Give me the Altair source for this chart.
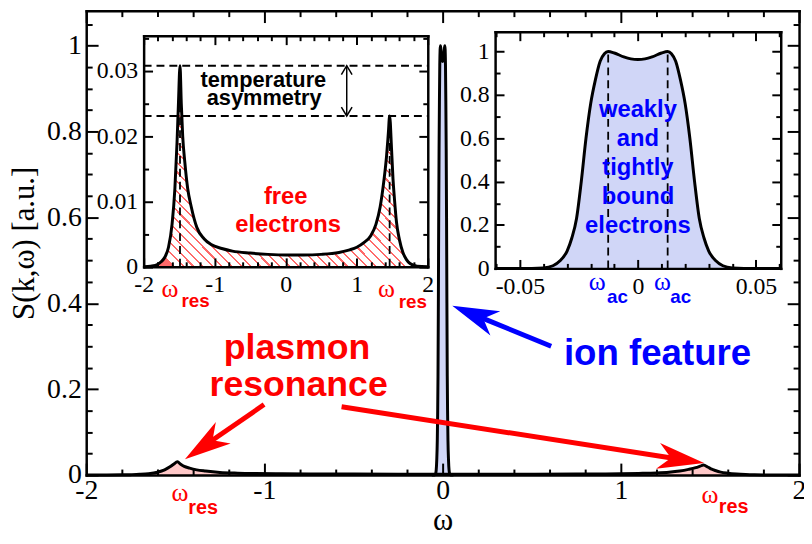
import math
import altair as alt
import pandas as pd

# ---------------- data ----------------
# free-electron (plasmon) part of S(k,w): left inset and main panel
free_w = [-2.0, -1.9, -1.8, -1.75, -1.7, -1.65, -1.6, -1.56, -1.53, -1.51, -1.488, -1.47, -1.45,
          -1.42, -1.38, -1.33, -1.25, -1.15, -1.05, -0.9, -0.75, -0.5, -0.25, 0.0, 0.25, 0.5,
          0.75, 0.9, 1.0, 1.1, 1.2, 1.27, 1.33, 1.38, 1.42, 1.445, 1.463, 1.49, 1.51, 1.53,
          1.56, 1.6, 1.65, 1.7, 1.75, 1.85, 2.0]
free_s = [0.0, 0.0001, 0.0004, 0.0008, 0.0015, 0.003, 0.0065, 0.012, 0.019, 0.025, 0.0308, 0.025,
          0.020, 0.016, 0.012, 0.0092, 0.006, 0.0043, 0.0034, 0.0028, 0.0024, 0.0021, 0.0019,
          0.0018, 0.0018, 0.0019, 0.0022, 0.0026, 0.003, 0.0037, 0.0048, 0.0065, 0.0092, 0.013,
          0.017, 0.0205, 0.0231, 0.018, 0.0135, 0.0105, 0.0068, 0.0042, 0.0022, 0.0011, 0.0005,
          0.0001, 0.0]

# ion feature (weakly and tightly bound electrons): right inset and central peak
ion_w = [-0.0605, -0.045, -0.04, -0.036, -0.033, -0.030, -0.028, -0.026, -0.024, -0.022, -0.020,
         -0.018, -0.016, -0.0142, -0.0126, -0.010, -0.006, -0.003, 0.0, 0.003, 0.006, 0.010,
         0.0126, 0.0142, 0.016, 0.018, 0.020, 0.022, 0.024, 0.026, 0.028, 0.030, 0.033, 0.036,
         0.040, 0.045, 0.0605]
ion_s = [0, 0, 0.002, 0.012, 0.035, 0.08, 0.14, 0.23, 0.40, 0.60, 0.76, 0.87, 0.955, 0.99, 1.0,
         0.993, 0.975, 0.966, 0.963, 0.966, 0.975, 0.993, 1.0, 0.99, 0.955, 0.87, 0.76, 0.60,
         0.40, 0.23, 0.14, 0.08, 0.035, 0.012, 0.002, 0, 0]

# tick values
main_x_ticks = [-2, -1.8, -1.6, -1.4, -1.2, -1, -0.8, -0.6, -0.4, -0.2, 0, 0.2, 0.4, 0.6, 0.8,
                1, 1.2, 1.4, 1.6, 1.8, 2]
main_x_labels = [-2, -1, 0, 1, 2]
main_y_ticks = [0, 0.05, 0.1, 0.15, 0.2, 0.25, 0.3, 0.35, 0.4, 0.45, 0.5, 0.55, 0.6, 0.65, 0.7,
                0.75, 0.8, 0.85, 0.9, 0.95, 1, 1.05]
main_y_labels = [0, 0.2, 0.4, 0.6, 0.8, 1]
in1_x_ticks = main_x_ticks
in1_x_labels = [-2, -1, 0, 1, 2]
in1_y_ticks = [0, 0.005, 0.01, 0.015, 0.02, 0.025, 0.03, 0.035]
in1_y_labels = [0, 0.01, 0.02, 0.03]
in2_x_ticks = [-0.06, -0.05, -0.04, -0.03, -0.02, -0.01, 0, 0.01, 0.02, 0.03, 0.04, 0.05, 0.06]
in2_x_labels = [-0.05, 0, 0.05]
in2_y_ticks = [0, 0.1, 0.2, 0.3, 0.4, 0.5, 0.6, 0.7, 0.8, 0.9, 1]
in2_y_labels = [0, 0.2, 0.4, 0.6, 0.8, 1]

# marked features
res_peak_w = [-1.488, 1.463]
res_peak_s = [0.0308, 0.0231]
ac_w = [-0.0126, 0.0126]
ac_s = [1.0, 1.0]
asym_w = 0.859

# ---------------- layout / style ----------------
W, H = 720, 469
MX = {"domain": [-2, 2], "range": [0, W]}
MY = {"domain": [0, 1.0814], "range": [H, 0]}
I1X = {"domain": [-2, 2], "range": [58, 345]}
I1Y = {"domain": [0, 0.0354], "range": [258.7, 25.3]}
I2X = {"domain": [-0.0605, 0.0605], "range": [413, 701.5]}
I2Y = {"domain": [0, 1.091], "range": [260.3, 21.3]}

SERIF = "Liberation Serif"
SANS = "Liberation Sans"
RED = "#ff0000"
BLUE = "#0000ff"
BLUE_FILL = "#d0d6f7"
PINK_FILL = "#ffc8c8"

LAB = "datum.value < 0 ? '-' + format(-datum.value, '~g') : format(datum.value, '~g')"


def sc(s):
    return alt.Scale(domain=s["domain"], range=s["range"], nice=False, zero=False)


def X(field, s, axis=None):
    return alt.X(field, type="quantitative", scale=sc(s), axis=axis)


def Y(field, s, axis=None):
    return alt.Y(field, type="quantitative", scale=sc(s), axis=axis, stack=None)


def px(v, s):
    d0, d1 = s["domain"]
    r0, r1 = s["range"]
    return r0 + (v - d0) / (d1 - d0) * (r1 - r0)


def unpx(p, s):
    d0, d1 = s["domain"]
    r0, r1 = s["range"]
    return d0 + (p - r0) / (r1 - r0) * (d1 - d0)


def cond(test, big, small):
    return {"condition": {"test": test, "value": big}, "value": small}


def frame_axes(sx, sy, xt, yt, xl_vals, yl_vals, xtest, ytest, fs, xpad, ypad, big, small, dw,
               xtitle=None, ytitle=None):
    xl, xr = sx["range"]
    yb, ytop = sy["range"]
    lab = dict(ticks=False, domain=False, labelFont=SERIF, labelFontSize=fs, labelColor="black",
               labelFlush=False, labelOverlap=False, labelExpr=LAB, grid=False, zindex=1)
    if xtitle:
        xt_kw = dict(title=xtitle, titleFont=SERIF, titleFontSize=31, titleFontWeight="normal",
                     titleColor="black", titlePadding=1)
    else:
        xt_kw = dict(title=None)
    if ytitle:
        yt_kw = dict(title=ytitle, titleFont=SERIF, titleFontSize=31, titleFontWeight="normal",
                     titleColor="black", titlePadding=6)
    else:
        yt_kw = dict(title=None)
    xlab = alt.Axis(orient="bottom", offset=yb - H, values=xl_vals, labelPadding=xpad, **lab, **xt_kw)
    ylab = alt.Axis(orient="left", offset=-xl, values=yl_vals, labelPadding=ypad, **lab, **yt_kw)
    tk = dict(labels=False, domain=True, domainColor="black", domainWidth=dw, domainCap="square",
              ticks=True, tickColor="black", tickWidth=2, title=None, grid=False, zindex=1)
    xin_b = alt.Axis(orient="top", offset=-yb, values=xt, tickSize=cond(xtest, big, small), **tk)
    yin_l = alt.Axis(orient="right", offset=xl - W, values=yt, tickSize=cond(ytest, big, small), **tk)
    xin_t = alt.Axis(orient="bottom", offset=ytop - H, values=xt, tickSize=cond(xtest, big, small), **tk)
    yin_r = alt.Axis(orient="left", offset=-xr, values=yt, tickSize=cond(ytest, big, small), **tk)
    return (xlab, ylab), (xin_b, yin_l), (xin_t, yin_r)


INT = "abs(datum.value - round(datum.value)) < 1e-6"
FIFTH = "abs(datum.value * 5 - round(datum.value * 5)) < 1e-6"
HUND = "abs(datum.value * 100 - round(datum.value * 100)) < 1e-6"
TWENT = "abs(datum.value * 20 - round(datum.value * 20)) < 1e-6"

mA = frame_axes(MX, MY, main_x_ticks, main_y_ticks, main_x_labels, main_y_labels, INT, FIFTH,
                28, 2, 5, 12, 6, 2.5, xtitle="ω", ytitle="S(k,ω)  [a.u.]")
aA = frame_axes(I1X, I1Y, in1_x_ticks, in1_y_ticks, in1_x_labels, in1_y_labels, INT, HUND,
                24, 6, 6, 9, 5, 2.5)
bA = frame_axes(I2X, I2Y, in2_x_ticks, in2_y_ticks, in2_x_labels, in2_y_labels, TWENT, FIFTH,
                24, 6, 6, 9, 5, 2.5)

df_free = pd.DataFrame({"w": free_w, "s": free_s})
df_ion = pd.DataFrame({"w": ion_w, "s": ion_s})

# red hatch (linear gradient with hard stops)
stops = []
N = 44
for i in range(N):
    a, b, c = i / N, (i + 0.22) / N, (i + 1) / N
    stops += [{"offset": a, "color": "#ff6a6a"}, {"offset": b, "color": "#ff6a6a"},
              {"offset": b, "color": "#ffffff"}, {"offset": c, "color": "#ffffff"}]
HATCH = {"gradient": "linear", "x1": 0, "y1": 0.85, "x2": 1, "y2": 0.15, "stops": stops}


def texts(rows, sx, sy, **mk):
    df = pd.DataFrame(rows, columns=["x", "y", "t"])
    return alt.Chart(df).mark_text(align="center", baseline="alphabetic", **mk).encode(
        x=X("x", sx), y=Y("y", sy), text="t:N")


layers = []

# ---------- main panel ----------
layers.append(alt.Chart(df_free).mark_area(fill=PINK_FILL, interpolate="monotone").encode(
    x=X("w", MX, mA[0][0]), y=Y("s", MY, mA[0][1])))
layers.append(alt.Chart(df_ion).mark_area(fill=BLUE_FILL, interpolate="monotone").encode(
    x=X("w", MX, mA[1][0]), y=Y("s", MY, mA[1][1])))
layers.append(alt.Chart(df_free).mark_line(color="black", strokeWidth=3, interpolate="monotone").encode(
    x=X("w", MX, mA[2][0]), y=Y("s", MY, mA[2][1])))
layers.append(alt.Chart(df_ion).mark_line(color="black", strokeWidth=3, interpolate="monotone").encode(
    x=X("w", MX), y=Y("s", MY)))

# ---------- inset 1: free electrons ----------
layers.append(alt.Chart(df_free).mark_area(fill=HATCH, interpolate="monotone").encode(
    x=X("w", I1X, aA[0][0]), y=Y("s", I1Y, aA[0][1])))
layers.append(alt.Chart(df_free).mark_line(color="black", strokeWidth=3, interpolate="monotone").encode(
    x=X("w", I1X, aA[1][0]), y=Y("s", I1Y, aA[1][1])))
df_pk = pd.DataFrame({"w": res_peak_w, "s": res_peak_s, "z": [0, 0],
                      "a": [I1X["domain"][0]] * 2, "b": [I1X["domain"][1]] * 2})
layers.append(alt.Chart(df_pk).mark_rule(color="black", strokeWidth=1.8, strokeDash=[8, 5]).encode(
    x=X("w", I1X, aA[2][0]), y=Y("z", I1Y, aA[2][1]), y2=alt.Y2("s")))
layers.append(alt.Chart(df_pk).mark_rule(color="black", strokeWidth=1.8, strokeDash=[8, 5]).encode(
    x=X("a", I1X), x2=alt.X2("b"), y=Y("s", I1Y)))
df_asym = pd.DataFrame({"w": [asym_w], "lo": [min(res_peak_s)], "hi": [max(res_peak_s)]})
layers.append(alt.Chart(df_asym).mark_rule(color="black", strokeWidth=1.5).encode(
    x=X("w", I1X), y=Y("lo", I1Y), y2=alt.Y2("hi")))
layers.append(alt.Chart(df_asym).mark_point(shape="M-0.6,1L0,0L0.6,1", size=324, filled=False,
                                            color="black", strokeWidth=1.5, opacity=1).encode(
    x=X("w", I1X), y=Y("hi", I1Y)))
layers.append(alt.Chart(df_asym).mark_point(shape="M-0.6,-1L0,0L0.6,-1", size=324, filled=False,
                                            color="black", strokeWidth=1.5, opacity=1).encode(
    x=X("w", I1X), y=Y("lo", I1Y)))
layers.append(texts([(-0.315, 0.02757, "temperature"), (-0.303, 0.0248, "asymmetry")], I1X, I1Y,
                    font=SANS, fontWeight="bold", fontSize=22, color="black"))
layers.append(texts([(0.0, 0.00962, "free"), (0.033, 0.00531, "electrons")], I1X, I1Y,
                    font=SANS, fontWeight="bold", fontSize=24, color=RED))
layers.append(texts([(-1.628, -0.0046, "ω"), (1.417, -0.0046, "ω")], I1X, I1Y,
                    font=SERIF, fontSize=26, color=RED))
layers.append(texts([(-1.268, -0.0061, "res"), (1.789, -0.0063, "res")], I1X, I1Y,
                    font=SANS, fontWeight="bold", fontSize=19, color=RED))

# ---------- inset 2: bound electrons ----------
layers.append(alt.Chart(df_ion).mark_area(fill=BLUE_FILL, interpolate="monotone").encode(
    x=X("w", I2X, bA[0][0]), y=Y("s", I2Y, bA[0][1])))
layers.append(alt.Chart(df_ion).mark_line(color="black", strokeWidth=3, interpolate="monotone").encode(
    x=X("w", I2X, bA[1][0]), y=Y("s", I2Y, bA[1][1])))
df_ac = pd.DataFrame({"w": ac_w, "s": ac_s, "z": [0, 0]})
layers.append(alt.Chart(df_ac).mark_rule(color="black", strokeWidth=1.8, strokeDash=[8, 5]).encode(
    x=X("w", I2X, bA[2][0]), y=Y("z", I2Y, bA[2][1]), y2=alt.Y2("s")))
layers.append(texts([(0.0, 0.700, "weakly"), (0.0, 0.565, "and"), (0.0, 0.431, "tightly"),
                     (0.0, 0.296, "bound"), (0.0, 0.161, "electrons")], I2X, I2Y,
                    font=SANS, fontWeight="bold", fontSize=24, color=BLUE))
layers.append(texts([(-0.01729, -0.099, "ω"), (0.0104, -0.099, "ω")], I2X, I2Y,
                    font=SERIF, fontSize=26, color=BLUE))
layers.append(texts([(-0.00869, -0.158, "ac"), (0.01817, -0.158, "ac")], I2X, I2Y,
                    font=SANS, fontWeight="bold", fontSize=19, color=BLUE))

# ---------- main annotations ----------
layers.append(texts([(-0.817, 0.270, "plasmon"), (-0.808, 0.1845, "resonance")], MX, MY,
                    font=SANS, fontWeight="bold", fontSize=36, color=RED))
layers.append(texts([(1.206, 0.256, "ion feature")], MX, MY,
                    font=SANS, fontWeight="bold", fontSize=37, color=BLUE))
layers.append(texts([(-1.474, -0.060, "ω"), (1.50, -0.0646, "ω")], MX, MY,
                    font=SERIF, fontSize=26, color=RED))
layers.append(texts([(-1.344, -0.090, "res"), (1.633, -0.088, "res")], MX, MY,
                    font=SANS, fontWeight="bold", fontSize=20, color=RED))

HEAD = 47
HEAD_PATH = "M0,0L-1,-0.28L-0.72,0L-1,0.28Z"
arrows_red = [(-1.002, 0.164, -1.446, 0.0369), (-0.567, 0.159, 1.467, 0.0277)]
arrows_blue = [(0.609, 0.300, 0.054, 0.394)]


def arrow_layers(arrs, color):
    shafts, heads = [], []
    for x0, y0, x1, y1 in arrs:
        p0x, p0y = px(x0, MX), px(y0, MY)
        p1x, p1y = px(x1, MX), px(y1, MY)
        dx, dy = p1x - p0x, p1y - p0y
        L = math.hypot(dx, dy)
        ex, ey = p1x - dx / L * 0.6 * HEAD, p1y - dy / L * 0.6 * HEAD
        shafts.append({"x": x0, "y": y0, "x2": unpx(ex, MX), "y2": unpx(ey, MY)})
        heads.append({"x": x1, "y": y1, "a": math.degrees(math.atan2(dy, dx)) % 360})
    s = alt.Chart(pd.DataFrame(shafts)).mark_rule(color=color, strokeWidth=5).encode(
        x=X("x", MX), y=Y("y", MY), x2=alt.X2("x2"), y2=alt.Y2("y2"))
    h = alt.Chart(pd.DataFrame(heads)).mark_point(shape=HEAD_PATH, size=(2 * HEAD) ** 2, filled=True,
                                                  color=color, opacity=1, strokeWidth=0).encode(
        x=X("x", MX), y=Y("y", MY), angle=alt.Angle("a:Q", scale=None))
    return [s, h]


layers += arrow_layers(arrows_red, RED)
layers += arrow_layers(arrows_blue, BLUE)

chart = alt.layer(*layers).resolve_scale(x="independent", y="independent").resolve_axis(
    x="independent", y="independent").properties(
    width=W, height=H, background="white",
    padding={"left": 79, "top": 0, "right": 5, "bottom": 67},
    autosize=alt.AutoSizeParams(type="none")).configure_view(stroke=None)

chart.save("out.html", embed_options={"renderer": "svg", "actions": False})
